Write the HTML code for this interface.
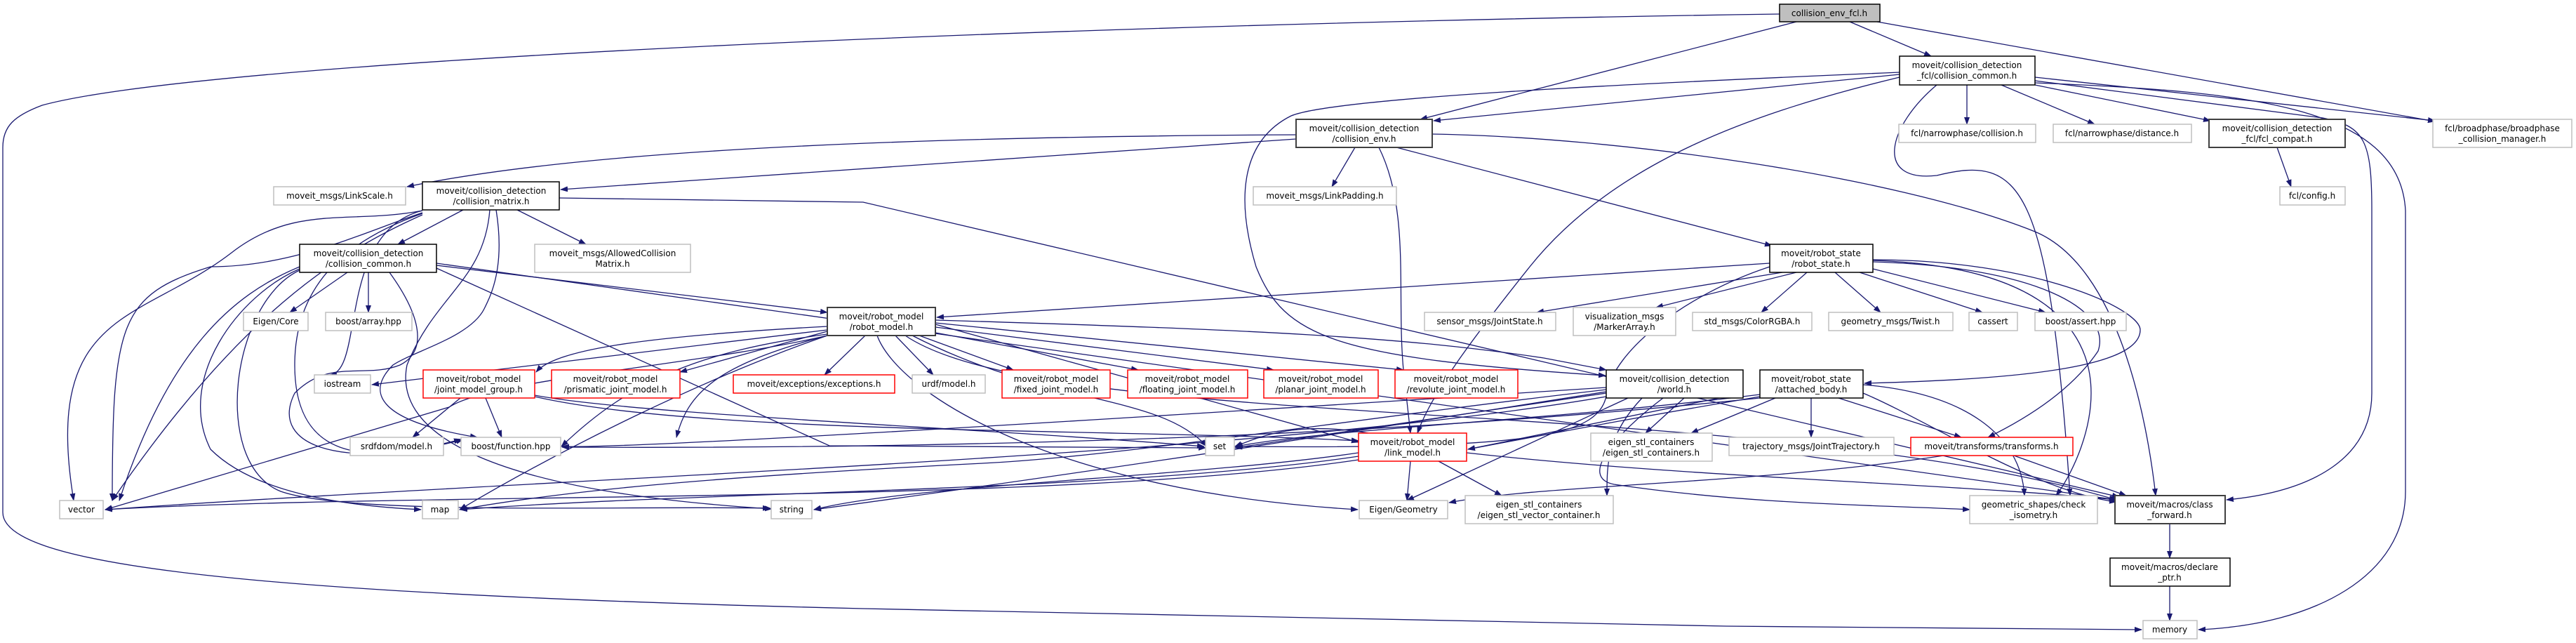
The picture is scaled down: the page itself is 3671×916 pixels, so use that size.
<!DOCTYPE html>
<html><head><meta charset="utf-8"><style>
html,body{margin:0;padding:0;background:#fff;}
svg{display:block;}
text{font-family:"DejaVu Sans","Liberation Sans",sans-serif;font-size:12px;fill:#000;text-anchor:middle;}
.e{fill:none;stroke:#191970;stroke-width:1.3;marker-end:url(#a);}
.g{fill:#fff;stroke:#bfbfbf;stroke-width:1.5;}
.b{fill:#fff;stroke:#000;stroke-width:1.5;}
.d{fill:#fff;stroke:#404040;stroke-width:2;}
.r{fill:#fff;stroke:#ff0000;stroke-width:1.5;}
</style></head><body>
<svg width="3671" height="916" viewBox="0 0 3671 916" xmlns="http://www.w3.org/2000/svg">
<defs><marker id="a" markerWidth="11" markerHeight="8" refX="10" refY="4" orient="auto" markerUnits="userSpaceOnUse"><path d="M0,0 L11,4 L0,8 z" fill="#191970"/></marker></defs>

<!-- edges -->
<g>
<!-- env_fcl -->
<path class="e" d="M2536,20 C1500,35 300,85 60,150 C20,165 4,180 4,210 L4,730 C4,800 300,845 1230,867 L2460,892 L3052,897"/>
<path class="e" d="M2560,31 L2024,170"/>
<path class="e" d="M2636,31 L2752,80"/>
<path class="e" d="M2675,31 L3470,173"/>
<!-- fcl_common -->
<path class="e" d="M2707,106 L2043,172"/>
<path class="e" d="M2707,103 C2300,120 1900,140 1840,165 C1770,200 1760,280 1790,380 C1830,480 1900,510 2288,535"/>
<path class="e" d="M2803,121 L2803,177"/>
<path class="e" d="M2852,121 L2985,177"/>
<path class="e" d="M2900,121 L3150,172"/>
<path class="e" d="M2900,110 L3470,172"/>
<path class="e" d="M2900,115 L3310,168 C3370,180 3380,200 3380,300 L3380,560 C3380,650 3300,700 3173,712"/>
<path class="e" d="M2900,118 C3200,130 3420,150 3428,300 L3428,700 C3428,820 3300,890 3133,897"/>
<path class="e" d="M2760,121 C2690,180 2670,260 2760,250 C2880,220 2920,260 2950,706"/>
<path class="e" d="M2707,110 C2500,160 2300,230 2180,380 C2100,480 2040,560 2020,617"/>
<!-- collision_env -->
<path class="e" d="M1847,192 C1200,195 800,220 580,266"/>
<path class="e" d="M1847,198 L799,270"/>
<path class="e" d="M1931,210 L1898,266"/>
<path class="e" d="M1990,210 L2525,350"/>
<path class="e" d="M1965,210 C2010,300 1990,420 2000,527 L2010,617"/>
<path class="e" d="M2041,191 C2300,195 2700,250 2900,330 C3020,380 3060,600 3072,706"/>
<!-- collision_matrix -->
<path class="e" d="M660,299 L567,348"/>
<path class="e" d="M737,299 L835,348"/>
<path class="e" d="M797,282 L1230,288 L3020,708"/>
<path class="e" d="M602,300 C500,320 420,290 330,360 C200,460 60,440 105,713"/>
<path class="e" d="M602,303 C520,330 420,380 300,380 C170,420 160,460 160,713"/>
<path class="e" d="M602,304 C500,340 420,400 420,520 C420,680 560,650 657,626"/>
<path class="e" d="M698,299 C690,400 620,420 580,520 C560,620 700,700 1100,725"/>
<path class="e" d="M707,299 C720,380 700,420 690,440 C670,480 590,500 560,520 C520,560 540,600 680,623"/>
<path class="e" d="M602,306 C480,360 340,450 160,713"/>
<path class="e" d="M602,300 C480,330 520,530 470,534"/>
<!-- collision_common -->
<path class="e" d="M495,388 L413,445"/>
<path class="e" d="M525,388 L525,445"/>
<path class="e" d="M622,378 L1179,445"/>
<path class="e" d="M622,382 L1182,635 L1718,638"/>
<path class="e" d="M622,375 L3016,712"/>
<path class="e" d="M427,380 C330,420 240,500 170,713"/>
<path class="e" d="M427,383 C340,420 250,540 300,640 C360,700 480,720 600,726"/>
<path class="e" d="M427,385 C330,430 300,660 400,700 C500,735 900,720 1097,724"/>
<path class="e" d="M555,388 C600,450 610,500 570,520 C520,540 470,510 420,560 C380,640 500,670 660,626"/>
<!-- robot_state -->
<path class="e" d="M2522,375 L1335,452"/>
<path class="e" d="M2540,388 L2190,445"/>
<path class="e" d="M2560,388 L2360,438"/>
<path class="e" d="M2575,388 L2510,445"/>
<path class="e" d="M2615,388 L2680,445"/>
<path class="e" d="M2650,388 L2825,445"/>
<path class="e" d="M2669,383 L2915,445"/>
<path class="e" d="M2669,370 C2900,370 3050,440 3050,470 C3050,520 2900,540 2657,546"/>
<path class="e" d="M2669,373 C2900,380 3010,440 2990,500 C2950,560 2880,600 2833,623"/>
<path class="e" d="M2669,371 C2950,380 2980,500 2980,560 C2980,620 2950,680 2930,706"/>
<path class="e" d="M2522,380 C2400,420 2300,500 2290,560 C2280,620 2200,640 1760,636"/>
<!-- robot_model -->
<path class="e" d="M1179,470 L530,548"/>
<path class="e" d="M1179,465 C900,480 790,500 764,530"/>
<path class="e" d="M1179,472 L969,530"/>
<path class="e" d="M1233,478 L1175,534"/>
<path class="e" d="M1276,478 L1330,534"/>
<path class="e" d="M1310,478 L1444,527"/>
<path class="e" d="M1333,474 L1622,527"/>
<path class="e" d="M1333,466 L1815,527"/>
<path class="e" d="M1333,460 L2000,527"/>
<path class="e" d="M1333,456 C1800,470 2000,480 2200,510 L2289,527"/>
<path class="e" d="M1333,462 L1936,630"/>
<path class="e" d="M1179,476 C1000,500 900,540 800,636"/>
<path class="e" d="M1179,478 C1020,520 980,560 964,623"/>
<path class="e" d="M1250,478 C1280,560 1500,700 1935,726"/>
<path class="e" d="M1179,478 C1000,520 700,540 640,580 L150,726"/>
<path class="e" d="M1179,478 C1000,540 800,640 655,726"/>
<path class="e" d="M1290,478 C1500,620 2500,560 3016,712"/>
<path class="e" d="M1300,478 C1500,580 1650,560 1720,636"/>
<!-- jmg -->
<path class="e" d="M656,567 L588,623"/>
<path class="e" d="M692,567 L715,623"/>
<path class="e" d="M762,565 C1000,620 1600,610 1936,628"/>
<path class="e" d="M762,563 C900,590 1400,610 1716,636"/>
<!-- world -->
<path class="e" d="M2289,560 L1760,638"/>
<path class="e" d="M2320,567 L2005,713"/>
<path class="e" d="M2340,567 C2290,620 2290,660 2290,706"/>
<path class="e" d="M2370,567 C2300,620 2250,680 2300,690 C2500,720 2700,720 2807,726"/>
<path class="e" d="M2400,567 L2345,617"/>
<path class="e" d="M2484,560 L2092,640"/>
<path class="e" d="M2289,555 C1900,600 1600,650 1400,660 C1000,680 800,700 655,726"/>
<path class="e" d="M2289,558 C1900,620 1500,680 1160,726"/>
<path class="e" d="M2289,552 C1700,590 900,640 801,636"/>
<path class="e" d="M2289,565 C1800,650 800,680 150,726"/>
<!-- attached_body -->
<path class="e" d="M2581,567 L2581,623"/>
<path class="e" d="M2620,567 L2795,623"/>
<path class="e" d="M2530,567 L2410,617"/>
<path class="e" d="M2508,565 C2300,600 2200,620 2092,640"/>
<path class="e" d="M2508,567 C2000,620 1400,640 801,637"/>
<path class="e" d="M2655,548 C2800,560 2880,620 2885,706"/>
<path class="e" d="M2655,560 C2750,600 2900,700 3016,715"/>
<path class="e" d="M2508,562 C2200,600 1900,610 1761,636"/>
<!-- link_model -->
<path class="e" d="M2010,657 L2005,713"/>
<path class="e" d="M2050,657 L2140,706"/>
<path class="e" d="M1936,645 C1700,680 1300,690 1160,726"/>
<path class="e" d="M1936,650 C1600,700 1000,700 656,726"/>
<path class="e" d="M1936,655 C1500,720 600,700 150,726"/>
<path class="e" d="M2090,645 C2400,680 2800,690 3016,712"/>
<path class="e" d="M1950,617 C1850,600 1800,620 1760,636"/>
<!-- transforms -->
<path class="e" d="M2770,649 C2500,690 2200,690 2065,716"/>
<path class="e" d="M2870,649 L3030,706"/>
<!-- class_forward chain -->
<path class="e" d="M3092,746 L3092,795"/>
<path class="e" d="M3092,835 L3092,884"/>
<path class="e" d="M3245,210 L3265,266"/>
</g>

<!-- nodes -->
<rect x="2536" y="6" width="143" height="25" fill="#bfbfbf" stroke="#000" stroke-width="1.5"/><text x="2607" y="23">collision_env_fcl.h</text>

<rect class="b" x="2707" y="80" width="193" height="41"/><text x="2803" y="97">moveit/collision_detection</text><text x="2803" y="112">_fcl/collision_common.h</text>
<rect class="d" x="1847" y="170" width="194" height="40"/><text x="1944" y="187">moveit/collision_detection</text><text x="1944" y="202">/collision_env.h</text>
<rect class="g" x="2706" y="177" width="195" height="26"/><text x="2803" y="194">fcl/narrowphase/collision.h</text>
<rect class="g" x="2926" y="177" width="197" height="26"/><text x="3024" y="194">fcl/narrowphase/distance.h</text>
<rect class="d" x="3148" y="170" width="194" height="40"/><text x="3245" y="187">moveit/collision_detection</text><text x="3245" y="202">_fcl/fcl_compat.h</text>
<rect class="g" x="3467" y="170" width="198" height="40"/><text x="3566" y="187">fcl/broadphase/broadphase</text><text x="3566" y="202">_collision_manager.h</text>
<rect class="g" x="3249" y="266" width="93" height="26"/><text x="3295" y="283">fcl/config.h</text>
<rect class="g" x="390" y="266" width="188" height="26"/><text x="484" y="283">moveit_msgs/LinkScale.h</text>
<rect class="b" x="602" y="259" width="195" height="40"/><text x="700" y="276">moveit/collision_detection</text><text x="700" y="291">/collision_matrix.h</text>
<rect class="g" x="1786" y="266" width="204" height="26"/><text x="1888" y="283">moveit_msgs/LinkPadding.h</text>
<rect class="b" x="427" y="348" width="195" height="40"/><text x="525" y="365">moveit/collision_detection</text><text x="525" y="380">/collision_common.h</text>
<rect class="g" x="762" y="348" width="222" height="40"/><text x="873" y="365">moveit_msgs/AllowedCollision</text><text x="873" y="380">Matrix.h</text>
<rect class="b" x="2522" y="348" width="147" height="40"/><text x="2595" y="365">moveit/robot_state</text><text x="2595" y="380">/robot_state.h</text>
<rect class="d" x="1179" y="438" width="154" height="40"/><text x="1256" y="455">moveit/robot_model</text><text x="1256" y="470">/robot_model.h</text>
<rect class="g" x="347" y="445" width="92" height="26"/><text x="393" y="462">Eigen/Core</text>
<rect class="g" x="464" y="445" width="123" height="26"/><text x="525" y="462">boost/array.hpp</text>
<rect class="g" x="2030" y="445" width="187" height="26"/><text x="2123" y="462">sensor_msgs/JointState.h</text>
<rect class="g" x="2242" y="438" width="146" height="40"/><text x="2315" y="455">visualization_msgs</text><text x="2315" y="470">/MarkerArray.h</text>
<rect class="g" x="2412" y="445" width="170" height="26"/><text x="2497" y="462">std_msgs/ColorRGBA.h</text>
<rect class="g" x="2606" y="445" width="177" height="26"/><text x="2694" y="462">geometry_msgs/Twist.h</text>
<rect class="g" x="2806" y="445" width="69" height="26"/><text x="2840" y="462">cassert</text>
<rect class="g" x="2900" y="445" width="130" height="26"/><text x="2965" y="462">boost/assert.hpp</text>
<rect class="g" x="448" y="534" width="80" height="26"/><text x="488" y="551">iostream</text>
<rect class="r" x="603" y="527" width="159" height="40"/><text x="682" y="544">moveit/robot_model</text><text x="682" y="559">/joint_model_group.h</text>
<rect class="r" x="786" y="527" width="183" height="40"/><text x="877" y="544">moveit/robot_model</text><text x="877" y="559">/prismatic_joint_model.h</text>
<rect class="r" x="1045" y="534" width="230" height="26"/><text x="1160" y="551">moveit/exceptions/exceptions.h</text>
<rect class="g" x="1300" y="534" width="104" height="26"/><text x="1352" y="551">urdf/model.h</text>
<rect class="r" x="1428" y="527" width="154" height="40"/><text x="1505" y="544">moveit/robot_model</text><text x="1505" y="559">/fixed_joint_model.h</text>
<rect class="r" x="1607" y="527" width="171" height="40"/><text x="1692" y="544">moveit/robot_model</text><text x="1692" y="559">/floating_joint_model.h</text>
<rect class="r" x="1801" y="527" width="163" height="40"/><text x="1882" y="544">moveit/robot_model</text><text x="1882" y="559">/planar_joint_model.h</text>
<rect class="r" x="1988" y="527" width="175" height="40"/><text x="2075" y="544">moveit/robot_model</text><text x="2075" y="559">/revolute_joint_model.h</text>
<rect class="b" x="2289" y="527" width="195" height="40"/><text x="2386" y="544">moveit/collision_detection</text><text x="2386" y="559">/world.h</text>
<rect class="b" x="2508" y="527" width="147" height="40"/><text x="2581" y="544">moveit/robot_state</text><text x="2581" y="559">/attached_body.h</text>
<rect class="g" x="499" y="623" width="133" height="26"/><text x="565" y="640">srdfdom/model.h</text>
<rect class="g" x="657" y="623" width="142" height="26"/><text x="728" y="640">boost/function.hpp</text>
<rect class="g" x="1718" y="623" width="41" height="26"/><text x="1738" y="640">set</text>
<rect class="r" x="1936" y="617" width="154" height="40"/><text x="2013" y="634">moveit/robot_model</text><text x="2013" y="649">/link_model.h</text>
<rect class="g" x="2267" y="617" width="173" height="40"/><text x="2353" y="634">eigen_stl_containers</text><text x="2353" y="649">/eigen_stl_containers.h</text>
<rect class="g" x="2464" y="623" width="235" height="26"/><text x="2581" y="640">trajectory_msgs/JointTrajectory.h</text>
<rect class="r" x="2723" y="623" width="231" height="26"/><text x="2838" y="640">moveit/transforms/transforms.h</text>
<rect class="g" x="85" y="713" width="62" height="26"/><text x="116" y="730">vector</text>
<rect class="g" x="602" y="713" width="51" height="26"/><text x="627" y="730">map</text>
<rect class="g" x="1099" y="713" width="58" height="26"/><text x="1128" y="730">string</text>
<rect class="g" x="1937" y="713" width="126" height="26"/><text x="2000" y="730">Eigen/Geometry</text>
<rect class="g" x="2088" y="706" width="211" height="40"/><text x="2193" y="723">eigen_stl_containers</text><text x="2193" y="738">/eigen_stl_vector_container.h</text>
<rect class="g" x="2807" y="706" width="182" height="40"/><text x="2898" y="723">geometric_shapes/check</text><text x="2898" y="738">_isometry.h</text>
<rect class="d" x="3014" y="706" width="157" height="40"/><text x="3092" y="723">moveit/macros/class</text><text x="3092" y="738">_forward.h</text>
<rect class="b" x="3007" y="795" width="171" height="40"/><text x="3092" y="812">moveit/macros/declare</text><text x="3092" y="827">_ptr.h</text>
<rect class="g" x="3054" y="884" width="77" height="26"/><text x="3092" y="901">memory</text>
</svg>
</body></html>
